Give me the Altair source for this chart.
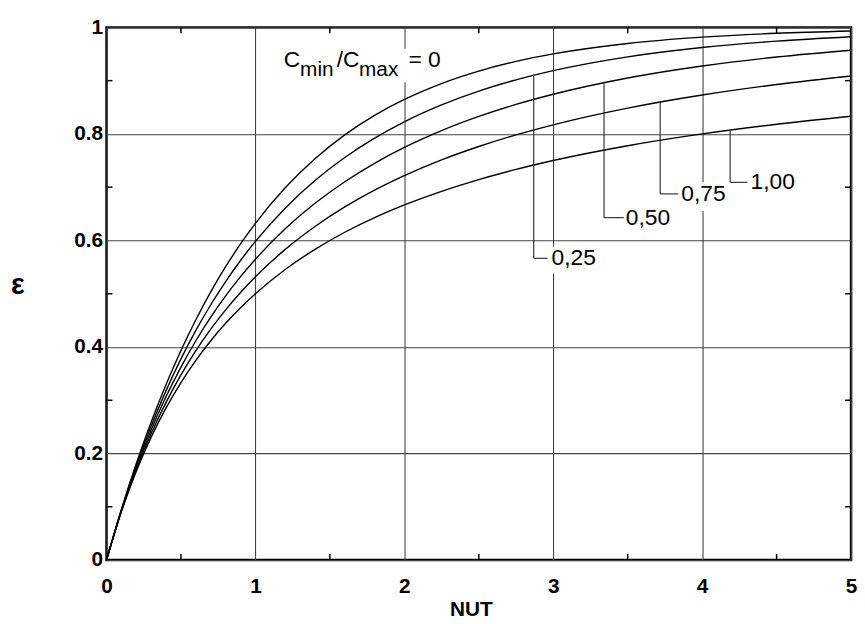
import altair as alt
import pandas as pd

# NUT sample points and effectiveness (counterflow curves)
nut = [0, 0.1, 0.2, 0.3, 0.4, 0.5, 0.6, 0.7, 0.8, 0.9, 1.0, 1.2, 1.4, 1.6, 1.8,
       2.0, 2.25, 2.5, 2.75, 3.0, 3.5, 4.0, 4.5, 5.0]
eps_000 = [0, 0.0952, 0.1813, 0.2592, 0.3297, 0.3935, 0.4512, 0.5034, 0.5507, 0.5934,
           0.6321, 0.6988, 0.7534, 0.7981, 0.8347, 0.8647, 0.8946, 0.9179, 0.9361,
           0.9502, 0.9698, 0.9817, 0.9889, 0.9933]
eps_025 = [0, 0.0941, 0.1775, 0.2517, 0.3181, 0.3776, 0.4311, 0.4793, 0.5229, 0.5624,
           0.5983, 0.6606, 0.7124, 0.7557, 0.7921, 0.8228, 0.8545, 0.8804, 0.9015,
           0.9188, 0.9447, 0.9622, 0.9741, 0.9823]
eps_050 = [0, 0.0930, 0.1738, 0.2445, 0.3069, 0.3623, 0.4117, 0.4560, 0.4959, 0.5320,
           0.5647, 0.6218, 0.6697, 0.7102, 0.7448, 0.7746, 0.8062, 0.8328, 0.8553,
           0.8744, 0.9049, 0.9274, 0.9444, 0.9572]
eps_075 = [0, 0.0920, 0.1702, 0.2375, 0.2961, 0.3475, 0.3930, 0.4334, 0.4697, 0.5023,
           0.5319, 0.5832, 0.6263, 0.6630, 0.6945, 0.7218, 0.7513, 0.7764, 0.7982,
           0.8171, 0.8484, 0.8730, 0.8927, 0.9088]
eps_100 = [0, 0.0909, 0.1667, 0.2308, 0.2857, 0.3333, 0.3750, 0.4118, 0.4444, 0.4737,
           0.5000, 0.5455, 0.5833, 0.6154, 0.6429, 0.6667, 0.6923, 0.7143, 0.7333,
           0.7500, 0.7778, 0.8000, 0.8182, 0.8333]
ratios = ["0", "0.25", "0.50", "0.75", "1.00"]
series = [eps_000, eps_025, eps_050, eps_075, eps_100]

# leader labels
lab_text = ["0,25", "0,50", "0,75", "1,00"]
lead_x = [2.869, 3.341, 3.718, 4.188]
lead_top = [0.9112, 0.8950, 0.8591, 0.8071]
lead_bot = [0.5665, 0.6428, 0.6874, 0.7091]
lead_end = [2.962, 3.474, 3.840, 4.305]
lab_x = [2.989, 3.487, 3.860, 4.325]

# white boxes behind labels (break grid lines)
box_x1 = [1.174, 2.975, 3.474, 3.846, 4.311]
box_x2 = [2.257, 3.295, 3.780, 4.158, 4.617]
box_y1 = [0.960, 0.5883, 0.6663, 0.7091, 0.7333]
box_y2 = [0.8968, 0.5381, 0.6180, 0.6552, 0.6831]

# "Cmin/Cmax = 0" pieces
piece_text = ["C", "min", "/C", "max", "= 0"]
piece_x = [1.190, 1.300, 1.546, 1.696, 2.028]
piece_y = [0.9247, 0.9093, 0.9247, 0.9093, 0.9247]
piece_fs = [23, 21, 23, 21, 23]

x_major = [0, 1, 2, 3, 4, 5]
y_major = [0, 0.2, 0.4, 0.6, 0.8, 1.0]
x_minor = [0.5, 1.5, 2.5, 3.5, 4.5]
y_minor = [0.1, 0.3, 0.5, 0.7, 0.9]

W, H = 752, 538
FONT = "Liberation Sans"

rows = []
for r, s in zip(ratios, series):
    for n, e in zip(nut, s):
        rows.append({"NUT": n, "eps": e, "Cr": r})
curves = pd.DataFrame(rows)

xs = alt.Scale(domain=[0, 5], nice=False, zero=False)
ys = alt.Scale(domain=[0, 1], nice=False, zero=False)

AX_X = alt.Axis(
    values=x_major, grid=True, gridColor="#444", gridWidth=1.1, ticks=False, tickSize=0,
    domain=False, labelFont=FONT, labelFontWeight="bold", labelFontSize=21,
    labelColor="black", labelPadding=16, labelFlush=False,
    title="NUT", titleFont=FONT, titleFontWeight="bold", titleFontSize=21,
    titleColor="black", titleX=368, titleY=39, titleAlign="center", titleBaseline="top")
AX_Y = alt.Axis(
    values=y_major, grid=True, gridColor="#444", gridWidth=1.1, ticks=False, tickSize=0,
    domain=False, labelFont=FONT, labelFontWeight="bold", labelFontSize=21,
    labelColor="black", labelPadding=4, labelFlush=False,
    labelExpr="datum.value == 0 ? '0' : datum.value == 1 ? '1' : format(datum.value, '.1f')",
    title="ε", titleFont=FONT, titleFontWeight="bold", titleFontSize=29,
    titleColor="black", titleAngle=0, titleX=-90, titleY=260, titleAlign="center",
    titleBaseline="middle")

lines = alt.Chart(curves).mark_line(color="black", strokeWidth=1.4, interpolate="monotone").encode(
    x=alt.X("NUT:Q", scale=xs, axis=AX_X),
    y=alt.Y("eps:Q", scale=ys, axis=AX_Y),
    detail="Cr:N",
)

boxes = alt.Chart(pd.DataFrame({"x1": box_x1, "x2": box_x2, "y1": box_y1, "y2": box_y2})).mark_rect(
    color="white").encode(
    x=alt.X("x1:Q", scale=xs, axis=AX_X), x2="x2:Q",
    y=alt.Y("y1:Q", scale=ys, axis=AX_Y), y2="y2:Q")

lead_df = pd.DataFrame({"x": lead_x, "top": lead_top, "bot": lead_bot, "end": lead_end,
                        "lx": lab_x, "t": lab_text})
vlead = alt.Chart(lead_df).mark_rule(color="#222", strokeWidth=1.1).encode(
    x=alt.X("x:Q", scale=xs, axis=AX_X),
    y=alt.Y("top:Q", scale=ys, axis=AX_Y), y2="bot:Q")
hlead = alt.Chart(lead_df).mark_rule(color="#222", strokeWidth=1.1).encode(
    x=alt.X("x:Q", scale=xs, axis=AX_X), x2="end:Q",
    y=alt.Y("bot:Q", scale=ys, axis=AX_Y))
labels = alt.Chart(lead_df).mark_text(font=FONT, fontSize=23, align="left", baseline="middle",
                                      color="black").encode(
    x=alt.X("lx:Q", scale=xs, axis=AX_X),
    y=alt.Y("bot:Q", scale=ys, axis=AX_Y), text="t:N")

pieces = alt.Chart(pd.DataFrame({"x": piece_x, "y": piece_y, "t": piece_text, "fs": piece_fs})).mark_text(
    font=FONT, align="left", baseline="alphabetic", color="black").encode(
    x=alt.X("x:Q", scale=xs, axis=AX_X),
    y=alt.Y("y:Q", scale=ys, axis=AX_Y),
    text="t:N", size=alt.Size("fs:Q", scale=None, legend=None))

xm = pd.DataFrame({"v": x_minor})
ym = pd.DataFrame({"v": y_minor})
tick_b = alt.Chart(xm).mark_rule(color="black", strokeWidth=1.5).encode(
    x=alt.X("v:Q", scale=xs, axis=AX_X), y=alt.value(H), y2=alt.value(H - 6))
tick_t = alt.Chart(xm).mark_rule(color="black", strokeWidth=1.5).encode(
    x=alt.X("v:Q", scale=xs, axis=AX_X), y=alt.value(0), y2=alt.value(6))
tick_l = alt.Chart(ym).mark_rule(color="black", strokeWidth=1.5).encode(
    y=alt.Y("v:Q", scale=ys, axis=AX_Y), x=alt.value(0), x2=alt.value(6))
tick_r = alt.Chart(ym).mark_rule(color="black", strokeWidth=1.5).encode(
    y=alt.Y("v:Q", scale=ys, axis=AX_Y), x=alt.value(W), x2=alt.value(W - 6))

chart = alt.layer(boxes, lines, vlead, hlead, labels, pieces,
                  tick_b, tick_t, tick_l, tick_r).properties(
    width=W, height=H,
    autosize=alt.AutoSizeParams(type="none"),
    padding={"left": 99.5, "top": 16.5, "right": 6, "bottom": 60},
    background="white",
).configure_view(stroke="black", strokeWidth=2.5)

chart.save("out.html", embed_options={"renderer": "svg", "actions": False})
